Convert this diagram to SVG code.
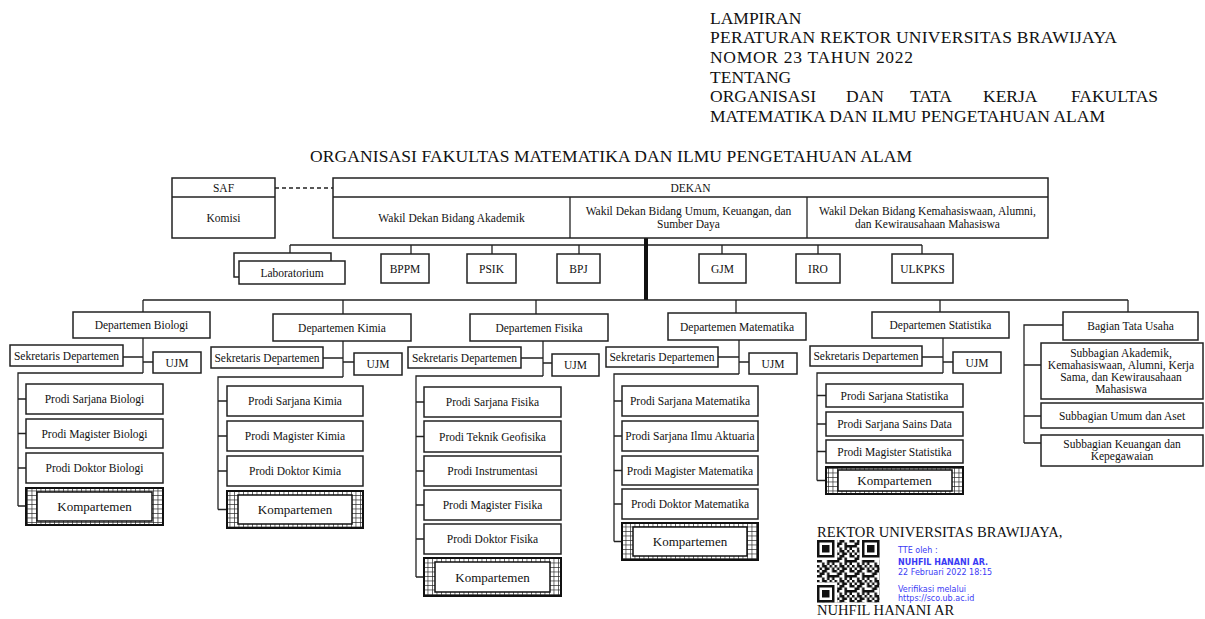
<svg xmlns="http://www.w3.org/2000/svg" width="1205" height="619" viewBox="0 0 1205 619">
<style>
.b{fill:#fff;stroke:#222;stroke-width:1.5}
.l{fill:none;stroke:#222;stroke-width:1.3}
.t{font-family:"Liberation Serif",serif;font-size:11.5px;fill:#111;text-anchor:middle}
.k{font-family:"Liberation Serif",serif;font-size:13px;fill:#111;text-anchor:middle}
.h{font-family:"Liberation Serif",serif;font-size:17.5px;fill:#111}
.s{font-family:"Liberation Serif",serif;font-size:14.6px;fill:#111}
.q{font-family:"DejaVu Sans",sans-serif;font-size:8px;fill:#3b3bf5}
.ko{stroke:#111;stroke-width:2;fill:url(#grid)}
.ki{fill:#fff;stroke:#111;stroke-width:1.5}
</style>
<defs>
<pattern id="grid" width="4.5" height="4.5" patternUnits="userSpaceOnUse">
<rect width="4.5" height="4.5" fill="#fff"/>
<path d="M0 0.4H4.5M0.4 0V4.5" stroke="#222" stroke-width="0.7"/>
</pattern>
<pattern id="qrp" width="7" height="6" patternUnits="userSpaceOnUse">
<path d="M0 0h1v1h-1zM2 0h2v1h-2zM6 0h1v1h-1zM1 1h2v1h-2zM4 1h1v1h-1zM0 2h2v1h-2zM4 2h3v1h-3zM2 3h1v1h-1zM4 3h1v1h-1zM6 3h1v1h-1zM0 4h1v1h-1zM2 4h2v1h-2zM5 4h1v1h-1zM1 5h1v1h-1zM3 5h2v1h-2zM6 5h1v1h-1z" fill="#111"/>
</pattern>
</defs>
<rect width="1205" height="619" fill="#fff"/>

<g id="header">
<text class="h" x="710" y="24">LAMPIRAN</text>
<text class="h" x="710" y="43" textLength="407">PERATURAN REKTOR UNIVERSITAS BRAWIJAYA</text>
<text class="h" x="710" y="63" textLength="203">NOMOR 23 TAHUN 2022</text>
<text class="h" x="710" y="83">TENTANG</text>
<text class="h" x="710" y="102">ORGANISASI</text>
<text class="h" x="846" y="102">DAN</text>
<text class="h" x="910" y="102">TATA</text>
<text class="h" x="983" y="102">KERJA</text>
<text class="h" x="1158" y="102" text-anchor="end">FAKULTAS</text>
<text class="h" x="710" y="122" textLength="395">MATEMATIKA DAN ILMU PENGETAHUAN ALAM</text>
<text class="h" x="310" y="162" textLength="602">ORGANISASI FAKULTAS MATEMATIKA DAN ILMU PENGETAHUAN ALAM</text>
</g>

<g id="connectors">
<line class="l" x1="275" y1="188" x2="333" y2="188" stroke-dasharray="4,3"/>
<path class="l" d="M290 245H922M290 245V253M411 245V254M492 245V254M579 245V254M722 245V254M818 245V254M922 245V254"/>
<line x1="646" y1="238" x2="646" y2="300" stroke="#111" stroke-width="4"/>
<path class="l" d="M143 300H1128M143 300V312M343 300V314M536 300V314M736 300V313M940 300V312M1128 300V312"/>
<path class="l" d="M143 338V373M123 357H143M143 362H153M143 373H18V506M18 399H26M18 433.5H26M18 468H26M18 506H26"/>
<path class="l" d="M343 341V377M323 358H343M343 362H354M343 377H218V509.5M218 401H227M218 436H227M218 471H227M218 509.5H227"/>
<path class="l" d="M543 341V376M521 358H543M543 363H552M543 376H416V577M416 402H424M416 436.5H424M416 471H424M416 505H424M416 539H424M416 577H424"/>
<path class="l" d="M739 340V374M718 357H739M739 362H749M739 374H614V541.5M614 401H622M614 436H622M614 470.5H622M614 504H622M614 541.5H622"/>
<path class="l" d="M943 338V373M922 357H943M943 362H953M943 373H817V480.5M817 395.5H826M817 424H826M817 451.5H826M817 480.5H826"/>
<path class="l" d="M1063 325H1024V443M1024 365H1041M1024 416H1041M1024 443H1041"/>
</g>

<g id="saf">
<rect class="b" x="172" y="178" width="103" height="60"/>
<line class="l" x1="172" y1="197" x2="275" y2="197"/>
<text class="t" x="223.5" y="191.5">SAF</text>
<text class="t" x="223.5" y="221.5">Komisi</text>
</g>
<g id="dekan">
<rect class="b" x="333" y="178" width="715" height="60"/>
<path class="l" d="M333 197H1048M570 197V238M807 197V238"/>
<text class="t" x="690.5" y="191.5">DEKAN</text>
<text class="t" x="451.5" y="221.5">Wakil Dekan Bidang Akademik</text>
<text class="t" x="688.5" y="215">Wakil Dekan Bidang Umum, Keuangan, dan</text>
<text class="t" x="688.5" y="228">Sumber Daya</text>
<text class="t" x="927.5" y="215">Wakil Dekan Bidang Kemahasiswaan, Alumni,</text>
<text class="t" x="927.5" y="228">dan Kewirausahaan Mahasiswa</text>
</g>

<g id="laboratorium">
<rect class="b" x="234" y="253" width="97" height="24"/>
<rect class="b" x="239" y="261" width="106" height="23"/>
<text class="t" x="292" y="276.5">Laboratorium</text>
</g>
<g id="bppm"><rect class="b" x="381" y="254" width="48" height="29"/><text class="t" x="405" y="272.5">BPPM</text></g>
<g id="psik"><rect class="b" x="467" y="254" width="49" height="29"/><text class="t" x="491.5" y="272.5">PSIK</text></g>
<g id="bpj"><rect class="b" x="557" y="254" width="43" height="29"/><text class="t" x="578.5" y="272.5">BPJ</text></g>
<g id="gjm"><rect class="b" x="699" y="254" width="47" height="29"/><text class="t" x="722.5" y="272.5">GJM</text></g>
<g id="iro"><rect class="b" x="796" y="254" width="44" height="29"/><text class="t" x="818" y="272.5">IRO</text></g>
<g id="ulkpks"><rect class="b" x="892" y="254" width="61" height="29"/><text class="t" x="922.5" y="272.5">ULKPKS</text></g>

<g id="dep-biologi">
<rect class="b" x="73" y="312" width="137" height="26"/><text class="t" x="141.5" y="329">Departemen Biologi</text>
<rect class="b" x="10" y="345" width="113" height="21"/><text class="t" x="66.5" y="359.5">Sekretaris Departemen</text>
<rect class="b" x="153" y="352" width="48" height="21"/><text class="t" x="177" y="366.5">UJM</text>
<rect class="b" x="26" y="384" width="137" height="30"/><text class="t" x="94.5" y="403">Prodi Sarjana Biologi</text>
<rect class="b" x="26" y="419" width="137" height="29"/><text class="t" x="94.5" y="437.5">Prodi Magister Biologi</text>
<rect class="b" x="26" y="453" width="137" height="30"/><text class="t" x="94.5" y="472">Prodi Doktor Biologi</text>
<rect class="ko" x="26" y="488" width="137" height="37"/><rect class="ki" x="37" y="492" width="115" height="29"/><text class="k" x="94.5" y="511">Kompartemen</text>
</g>

<g id="dep-kimia">
<rect class="b" x="273" y="314" width="138" height="27"/><text class="t" x="342" y="331.5">Departemen Kimia</text>
<rect class="b" x="211" y="347" width="112" height="21"/><text class="t" x="267" y="361.5">Sekretaris Departemen</text>
<rect class="b" x="354" y="353" width="48" height="22"/><text class="t" x="378" y="368">UJM</text>
<rect class="b" x="227" y="386" width="136" height="30"/><text class="t" x="295" y="405">Prodi Sarjana Kimia</text>
<rect class="b" x="227" y="421" width="136" height="30"/><text class="t" x="295" y="440">Prodi Magister Kimia</text>
<rect class="b" x="227" y="456" width="136" height="30"/><text class="t" x="295" y="475">Prodi Doktor Kimia</text>
<rect class="ko" x="227" y="491" width="136" height="37"/><rect class="ki" x="238" y="495" width="114" height="29"/><text class="k" x="295" y="514">Kompartemen</text>
</g>

<g id="dep-fisika">
<rect class="b" x="470" y="314" width="138" height="27"/><text class="t" x="539" y="331.5">Departemen Fisika</text>
<rect class="b" x="408" y="347" width="113" height="21"/><text class="t" x="464.5" y="361.5">Sekretaris Departemen</text>
<rect class="b" x="552" y="354" width="47" height="22"/><text class="t" x="575.5" y="369">UJM</text>
<rect class="b" x="424" y="387" width="137" height="30"/><text class="t" x="492.5" y="406">Prodi Sarjana Fisika</text>
<rect class="b" x="424" y="421" width="137" height="31"/><text class="t" x="492.5" y="440.5">Prodi Teknik Geofisika</text>
<rect class="b" x="424" y="456" width="137" height="30"/><text class="t" x="492.5" y="475">Prodi Instrumentasi</text>
<rect class="b" x="424" y="490" width="137" height="30"/><text class="t" x="492.5" y="509">Prodi Magister Fisika</text>
<rect class="b" x="424" y="524" width="137" height="30"/><text class="t" x="492.5" y="543">Prodi Doktor Fisika</text>
<rect class="ko" x="424" y="558" width="137" height="38"/><rect class="ki" x="435" y="562" width="115" height="30"/><text class="k" x="492.5" y="581.5">Kompartemen</text>
</g>

<g id="dep-matematika">
<rect class="b" x="668" y="313" width="138" height="27"/><text class="t" x="737" y="330.5">Departemen Matematika</text>
<rect class="b" x="606" y="347" width="112" height="20"/><text class="t" x="662" y="361">Sekretaris Departemen</text>
<rect class="b" x="749" y="353" width="48" height="21"/><text class="t" x="773" y="367.5">UJM</text>
<rect class="b" x="622" y="386" width="136" height="30"/><text class="t" x="690" y="405">Prodi Sarjana Matematika</text>
<rect class="b" x="622" y="421" width="136" height="30"/><text class="t" x="690" y="440">Prodi Sarjana Ilmu Aktuaria</text>
<rect class="b" x="622" y="456" width="136" height="29"/><text class="t" x="690" y="474.5">Prodi Magister Matematika</text>
<rect class="b" x="622" y="489" width="136" height="30"/><text class="t" x="690" y="508">Prodi Doktor Matematika</text>
<rect class="ko" x="622" y="523" width="136" height="37"/><rect class="ki" x="633" y="527" width="114" height="29"/><text class="k" x="690" y="546">Kompartemen</text>
</g>

<g id="dep-statistika">
<rect class="b" x="872" y="312" width="137" height="26"/><text class="t" x="940.5" y="329">Departemen Statistika</text>
<rect class="b" x="810" y="346" width="112" height="20"/><text class="t" x="866" y="360">Sekretaris Departemen</text>
<rect class="b" x="953" y="352" width="48" height="21"/><text class="t" x="977" y="366.5">UJM</text>
<rect class="b" x="826" y="384" width="137" height="23"/><text class="t" x="894.5" y="399.5">Prodi Sarjana Statistika</text>
<rect class="b" x="826" y="412" width="137" height="24"/><text class="t" x="894.5" y="428">Prodi Sarjana Sains Data</text>
<rect class="b" x="826" y="440" width="137" height="23"/><text class="t" x="894.5" y="455.5">Prodi Magister Statistika</text>
<rect class="ko" x="826" y="467" width="137" height="27"/><rect class="ki" x="838" y="470" width="114" height="21"/><text class="k" x="894.5" y="485">Kompartemen</text>
</g>

<g id="tata-usaha">
<rect class="b" x="1063" y="312" width="135" height="28"/><text class="t" x="1130.5" y="330">Bagian Tata Usaha</text>
<rect class="b" x="1041" y="343" width="162" height="56"/>
<text class="t" x="1121" y="357">Subbagian Akademik,</text>
<text class="t" x="1121" y="369">Kemahasiswaan, Alumni, Kerja</text>
<text class="t" x="1121" y="381">Sama, dan Kewirausahaan</text>
<text class="t" x="1121" y="393">Mahasiswa</text>
<rect class="b" x="1041" y="403" width="162" height="25"/><text class="t" x="1122" y="419.5">Subbagian Umum dan Aset</text>
<rect class="b" x="1041" y="435" width="162" height="31"/>
<text class="t" x="1122" y="447.5">Subbagian Keuangan dan</text>
<text class="t" x="1122" y="459.5">Kepegawaian</text>
</g>

<g id="signature">
<text class="s" x="817" y="537">REKTOR UNIVERSITAS BRAWIJAYA,</text>
<g transform="translate(817,540) scale(2.5)">
<rect width="25" height="25" fill="url(#qrp)"/>
<rect x="0" y="0" width="8" height="8" fill="#fff"/><rect x="17" y="0" width="8" height="8" fill="#fff"/><rect x="0" y="17" width="8" height="8" fill="#fff"/>
<path d="M0 0h7v7h-7zM1 1v5h5v-5zM2 2h3v3h-3zM18 0h7v7h-7zM19 1v5h5v-5zM20 2h3v3h-3zM0 18h7v7h-7zM1 19v5h5v-5zM2 20h3v3h-3z" fill="#111" fill-rule="evenodd"/>
</g>
<text class="q" x="898" y="553">TTE oleh :</text>
<text class="q" x="898" y="565" font-weight="bold" fill="#2424d0">NUHFIL HANANI AR.</text>
<text class="q" x="898" y="575">22 Februari 2022 18:15</text>
<text class="q" x="898" y="592">Verifikasi melalui</text>
<text class="q" x="898" y="601">https://sco.ub.ac.id</text>
<text class="s" x="817" y="615">NUHFIL HANANI AR</text>
</g>
</svg>
